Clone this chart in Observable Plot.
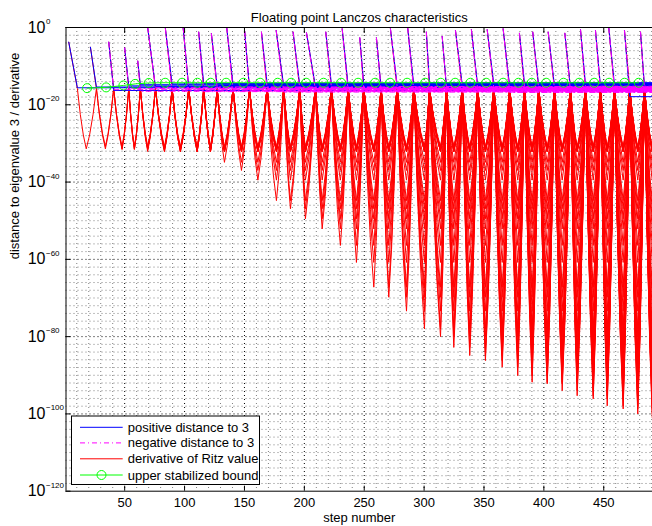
<!DOCTYPE html>
<html><head><meta charset="utf-8">
<script src="https://cdn.jsdelivr.net/npm/d3@7"></script>
<script src="https://cdn.jsdelivr.net/npm/@observablehq/plot@0.6"></script>
<style>
body{margin:0;background:#fff;}
#chart{width:652px;height:526px;}
</style></head><body><div id="chart"></div>
<script>
// ---- data (y values are log10 exponents) ----
const peakSteps = [10.5, 26.4, 40.8, 53.4, 63.1, 75.7, 89.6, 103.5, 116, 127.2, 140.5, 154.2, 168.9, 182.8, 196.2, 209.3, 222.6, 236.6, 249.6, 264.1, 277.5, 291.4, 304.5, 318.7, 331.8, 344.8, 358.2, 371.5, 383.8, 395.7, 408.8, 422.2, 434.7, 447.2, 458.9, 471.7, 484];
const peakLog = -15.8;
const topSteps = [3.3, 21.4, 36.7, 50.0, 60.9, 69.2, 84.0, 98.8, 111.8, 122.4, 135.2, 150.2, 164.2, 176.5, 190.6, 201.8, 217.9, 231.6, 246.3, 260.2, 271.9, 286.3, 301.9, 315.1, 326.2, 339.5, 352.7, 366.0, 379.6, 390.7, 403.6, 417.5, 430.6, 443.1, 454.2, 467.3, 480.7];
const topLogs = [-3.8, -5.1, -3.8, -5.3, -8.7, 0, -0.3, 0, -1.2, -1.6, 0, -1.0, -1.2, -0.8, -1.2, -1.4, -1.2, -0.35, -2.7, -2.7, -0.35, -0.1, -1.2, -2.3, -0.8, -0.6, -0.6, -0.35, -1.5, -1.2, -1.2, -1.5, -0.6, -0.8, -0.1, -0.8, -1.2];
const tipSteps = [17.9, 33.9, 47.8, 58.1, 69.2, 83.2, 96.5, 110.5, 121.6, 133.3, 147.5, 161.2, 176.7, 188.4, 200.9, 214.9, 230.1, 243.5, 258.0, 270.5, 285.3, 300.3, 313.7, 324.8, 338.1, 351.2, 365.2, 378.2, 390.2, 402.8, 415.3, 427.8, 441.2, 452.9, 466.2, 478.4, 490.5];
const depthByAge = [-31.4, -30.8, -31.6, -31.4, -32.1, -32.1, -32.1, -32.1, -32.0, -34.9, -37.0, -39.5, -44.8, -46.9, -49.5, -52.1, -56.4, -60.8, -67.2, -69.8, -73.4, -78.0, -80.0, -82.8, -84.9, -86.2, -87.9, -90.1, -91.8, -92.2, -94.0, -95.3, -96.1, -97.9, -98.7, -100.0, -101.0];
// shape of one arm of a dip: [fraction of the way from peak to tip, fraction of the depth]
const dipShape = [[0.33, 0.43], [0.67, 0.77]];
const blueLogs = [-15.6, -15.4, -16.3, -15.1, -14.8, -15.3, -14.6, -15.5, -14.5, -15.0, -14.7, -15.6, -14.4, -15.2, -14.9, -15.4, -14.6, -15.1, -14.5, -15.7, -14.8, -15.0, -14.3, -15.4, -14.7, -15.2, -14.6, -15.5, -14.4, -15.1, -14.9, -15.6, -14.5, -15.0, -14.7, -17.9, -15.2];
const magentaLogs = [null, null, -16.1, -15.8, -16.5, -15.5, -16.2, -15.9, -16.6, -15.4, -16.0, -16.3, -15.6, -16.7, -15.9, -16.2, -15.5, -16.4, -15.8, -16.1, -15.3, -16.6, -15.9, -16.0, -15.5, -16.3, -15.7, -16.8, -15.4, -16.1, -15.8, -16.5, -15.2, -16.0, -15.7, -16.4, -15.9];
const boundSteps = [18.6, 34.5, 48.9, 58.7, 70.1, 83.8, 97.9, 110.7, 121.8, 134.7, 149.1, 163.1, 177.8, 189.0, 201.5, 216.0, 230.7, 244.9, 259.1, 271.6, 285.8, 300.9, 313.9, 325.9, 338.7, 351.8, 366.0, 378.8, 389.9, 401.9, 416.4, 429.5, 442.0, 454.5, 467.3, 479.2];
const boundLogs = [-15.7, -15.5, -15.0, -14.6, -14.35, -14.3, -14.3, -14.3, -14.3, -14.3, -14.3, -14.3, -14.3, -14.3, -14.3, -14.3, -14.3, -14.3, -14.3, -14.3, -14.3, -14.3, -14.3, -14.3, -14.3, -14.3, -14.3, -14.3, -14.3, -14.3, -14.3, -14.3, -14.3, -14.3, -14.3, -14.3];
const stepEnd = 490.7;
const xTicks = [50, 100, 150, 200, 250, 300, 350, 400, 450];
const xMinorGrid = [10, 20, 30, 40, 60, 70, 80, 90, 110, 120, 130, 140, 160, 170, 180, 190, 210, 220, 230, 240, 260, 270, 280, 290, 310, 320, 330, 340, 360, 370, 380, 390, 410, 420, 430, 440, 460, 470, 480, 490];
const yTickExps = [0, -20, -40, -60, -80, -100, -120];
const yMinorExps = [-2,-4,-6,-8,-10,-12,-14,-16,-18,-22,-24,-26,-28,-30,-32,-34,-36,-38,-42,-44,-46,-48,-50,-52,-54,-56,-58,-62,-64,-66,-68,-70,-72,-74,-76,-78,-82,-84,-86,-88,-90,-92,-94,-96,-98,-102,-104,-106,-108,-110,-112,-114,-116,-118];
const legendLabels = ["positive distance to 3", "negative distance to 3", "derivative of Ritz value", "upper stabilized bound"];
const titleText = "Floating point Lanczos characteristics";
const xLabel = "step number";
const yLabel = "distance to eigenvalue 3 / derivative";

// ---- tables built from the arrays ----
const P = e => Math.pow(10, e);
const red = [];
const arm = (k, x0, x1, e0, e1, down) => {
  const pts = down ? dipShape : dipShape.slice().reverse().map(([t, f]) => [1 - t, 1 - f]);
  pts.forEach(([t, f]) => red.push({copy: k, step: x0 + (x1 - x0) * t, v: P(e0 + (e1 - e0) * f)}));
};
peakSteps.forEach((ps, k) => {
  red.push({copy: k, step: topSteps[k], v: P(topLogs[k])});
  red.push({copy: k, step: ps, v: P(peakLog)});
  for (let j = k; j < tipSteps.length; j++) {
    const d = depthByAge[j - k];
    arm(k, peakSteps[j], tipSteps[j], peakLog, d, true);
    red.push({copy: k, step: tipSteps[j], v: P(d)});
    if (j + 1 < peakSteps.length) {
      arm(k, tipSteps[j], peakSteps[j + 1], d, peakLog, false);
      red.push({copy: k, step: peakSteps[j + 1], v: P(peakLog)});
    }
  }
});
const blue = [], magenta = [];
peakSteps.forEach((ps, k) => {
  blue.push({copy: k, step: topSteps[k], v: P(topLogs[k])}, {copy: k, step: ps, v: P(blueLogs[k])}, {copy: k, step: stepEnd, v: P(blueLogs[k])});
  if (magentaLogs[k] !== null)
    magenta.push({copy: k, step: topSteps[k], v: P(topLogs[k])}, {copy: k, step: ps, v: P(magentaLogs[k])}, {copy: k, step: stepEnd, v: P(magentaLogs[k])});
});
const bound = boundSteps.map((s, i) => ({step: s, v: P(boundLogs[i])}));

const dotted = {strokeDasharray: "1,3", strokeWidth: 1};
const font = "'Liberation Sans', Arial, sans-serif";
const chart = Plot.plot({
  width: 652, height: 526,
  marginLeft: 65.5, marginRight: 0, marginTop: 27, marginBottom: 35.3,
  style: {fontFamily: font, fontSize: "13px", background: "white", color: "black", overflow: "visible"},
  x: {domain: [1, stepEnd], axis: null},
  y: {type: "log", domain: [1e-120, 1], axis: null},
  marks: [
    Plot.gridX(xMinorGrid, {stroke: "#000", strokeOpacity: 0.5, ...dotted}),
    Plot.gridX(xTicks, {stroke: "#000", strokeOpacity: 1, ...dotted}),
    Plot.gridY(yMinorExps.map(P), {stroke: "#000", strokeOpacity: 0.5, ...dotted}),
    Plot.gridY(yTickExps.slice(1, -1).map(P), {stroke: "#000", strokeOpacity: 1, ...dotted}),
    Plot.line(red, {x: "step", y: "v", z: "copy", stroke: "#ff0000", strokeWidth: 1, clip: true}),
    Plot.line(blue, {x: "step", y: "v", z: "copy", stroke: "#0000ff", strokeWidth: 1, clip: true}),
    Plot.line(magenta, {x: "step", y: "v", z: "copy", stroke: "#ff00ff", strokeWidth: 1, strokeDasharray: "5,3,1,3", clip: true}),
    Plot.line(bound, {x: "step", y: "v", stroke: "#00ff00", strokeWidth: 1, clip: true}),
    Plot.dot(bound, {x: "step", y: "v", r: 4.5, stroke: "#00ff00", fill: "none", strokeWidth: 1}),
    Plot.ruleX([1], {stroke: "#000", strokeWidth: 1}),
    Plot.ruleY([1, 1e-120], {stroke: "#000", strokeWidth: 1}),
    Plot.axisX(xTicks, {anchor: "bottom", tickSize: -5, tickFormat: () => "", label: null, stroke: "#000"}),
    Plot.axisX(xTicks, {anchor: "top", tickSize: -5, tickFormat: () => "", label: null, stroke: "#000"}),
    Plot.axisY(yTickExps.map(P), {anchor: "left", tickSize: -5, tickFormat: () => "", label: null, stroke: "#000"}),
    Plot.axisX(xTicks, {anchor: "bottom", tickSize: 0, tickPadding: 6.5, fontSize: 13, label: null, fill: "#000"}),
    Plot.text(yTickExps, {y: e => P(e), text: () => "10", frameAnchor: "left", dx: -20.5, textAnchor: "end", fontSize: 16, fill: "#000"}),
    Plot.text(yTickExps, {y: e => P(e), text: e => e === 0 ? "0" : "\u2212" + Math.abs(e), frameAnchor: "left", dx: -20, dy: -6, textAnchor: "start", fontSize: 8, fill: "#000"}),
    Plot.text([titleText], {text: d => d, frameAnchor: "top", dy: -15, fontSize: 13, fill: "#000"}),
    Plot.text([xLabel], {text: d => d, frameAnchor: "bottom", dy: 30.5, fontSize: 13, fill: "#000"}),
    Plot.text([yLabel], {text: d => d, frameAnchor: "left", dx: -51, rotate: -90, fontSize: 13, fill: "#000"})
  ]
});
document.getElementById("chart").appendChild(chart);

// ---- legend (drawn into the plot's svg) ----
const svg = d3.select(chart);
const lg = svg.append("g").attr("font-family", font).attr("font-size", 13).attr("text-anchor", "start");
lg.append("rect").attr("x", 71.5).attr("y", 416).attr("width", 188).attr("height", 68.5).attr("fill", "#fff").attr("stroke", "#000").attr("stroke-width", 1);
const legendStyles = [
  {stroke: "#0000ff", dash: null, marker: false},
  {stroke: "#ff00ff", dash: "5,3,1,3", marker: false},
  {stroke: "#ff0000", dash: null, marker: false},
  {stroke: "#00ff00", dash: null, marker: true}
];
const rowY = [427.3, 442.9, 458.8, 475];
legendLabels.forEach((lab, i) => {
  const st = legendStyles[i];
  const ln = lg.append("line").attr("x1", 80).attr("x2", 122.7).attr("y1", rowY[i]).attr("y2", rowY[i]).attr("stroke", st.stroke).attr("stroke-width", 1);
  if (st.dash) ln.attr("stroke-dasharray", st.dash);
  if (st.marker) lg.append("circle").attr("cx", 101.5).attr("cy", rowY[i]).attr("r", 4.5).attr("fill", "none").attr("stroke", st.stroke);
  lg.append("text").attr("x", 127.7).attr("y", rowY[i]).attr("dy", "0.35em").attr("fill", "#000").text(lab);
});
</script></body></html>
